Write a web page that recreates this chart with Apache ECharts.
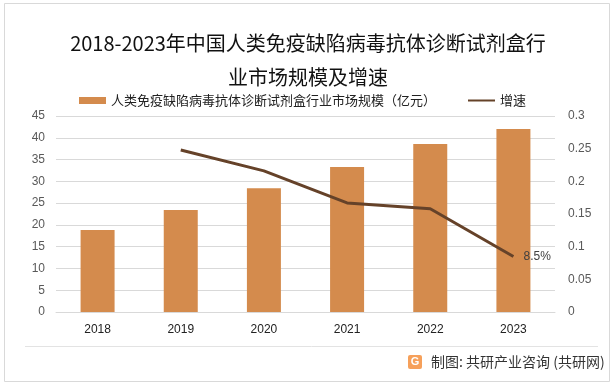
<!DOCTYPE html>
<html>
<head>
<meta charset="utf-8">
<script src="https://cdn.jsdelivr.net/npm/echarts@6/dist/echarts.min.js"></script>
<style>
html,body{margin:0;padding:0;background:#fff;}
#main{width:616px;height:387px;}
</style>
</head>
<body>
<div id="main"></div>
<script>
const years = ['2018', '2019', '2020', '2021', '2022', '2023'];
const marketSize = [18.8, 23.4, 28.4, 33.3, 38.6, 42.0];
const growth = [null, 0.248, 0.216, 0.167, 0.158, 0.085];
const leftTicks = { min: 0, max: 45, interval: 5 };
const rightTicks = { min: 0, max: 0.3, interval: 0.05 };
const barName = '人类免疫缺陷病毒抗体诊断试剂盒行业市场规模（亿元）';
const lineName = '增速';
const titleText = '2018-2023年中国人类免疫缺陷病毒抗体诊断试剂盒行\n业市场规模及增速';
const sourceText = '制图: 共研产业咨询 (共研网)';

const CJK = '"Noto Sans CJK SC", "Noto Sans", sans-serif';
const chart = echarts.init(document.getElementById('main'), null, { renderer: 'canvas' });

const growthData = growth.map((v, i) => {
  if (i === growth.length - 1) {
    return { value: v, label: { show: true, formatter: (Math.round(v * 1000) / 10) + '%' } };
  }
  return v;
});

chart.setOption({
  backgroundColor: '#ffffff',
  animation: false,
  title: {
    text: titleText,
    left: 'center',
    top: 21,
    textStyle: { fontFamily: CJK, fontSize: 20, fontWeight: 'normal', color: '#111', lineHeight: 34 }
  },
  legend: {
    left: 74,
    top: 89,
    itemWidth: 27,
    itemHeight: 7,
    itemGap: 31,
    textStyle: { fontFamily: CJK, fontSize: 13, color: '#222' },
    data: [
      { name: barName, icon: 'rect' },
      { name: lineName, itemStyle: { opacity: 0 } }
    ]
  },
  grid: { left: 56, right: 61, top: 116, bottom: 75, containLabel: false },
  xAxis: {
    type: 'category',
    data: years,
    axisLine: { show: true, lineStyle: { color: '#d9d9d9', width: 1 } },
    axisTick: { show: false },
    axisLabel: { color: '#222', fontSize: 12, margin: 12, fontFamily: 'Liberation Sans, sans-serif' }
  },
  yAxis: [
    {
      type: 'value',
      min: leftTicks.min, max: leftTicks.max, interval: leftTicks.interval,
      axisLine: { show: false },
      axisTick: { show: false },
      splitLine: { lineStyle: { color: '#d9d9d9', width: 1 } },
      axisLabel: { color: '#595959', fontSize: 12, margin: 11, fontFamily: 'Liberation Sans, sans-serif' }
    },
    {
      type: 'value',
      min: rightTicks.min, max: rightTicks.max, interval: rightTicks.interval,
      axisLine: { show: false },
      axisTick: { show: false },
      splitLine: { show: false },
      axisLabel: { color: '#595959', fontSize: 12, margin: 13, fontFamily: 'Liberation Sans, sans-serif' }
    }
  ],
  series: [
    {
      name: barName,
      type: 'bar',
      data: marketSize,
      barWidth: 34,
      itemStyle: { color: '#D48B4D' },
      yAxisIndex: 0
    },
    {
      name: lineName,
      type: 'line',
      yAxisIndex: 1,
      data: growthData,
      symbol: 'circle',
      symbolSize: 0.1,
      showSymbol: true,
      lineStyle: { color: '#654229', width: 3 },
      itemStyle: { color: '#654229' },
      label: { show: false, position: 'right', distance: 10, color: '#404040', fontSize: 12, fontFamily: 'Liberation Sans, sans-serif' }
    }
  ],
  graphic: [
    { type: 'rect', shape: { x: 4.5, y: 3.5, width: 605, height: 378 }, style: { fill: 'none', stroke: '#d9d9d9', lineWidth: 1 }, silent: true },
    { type: 'line', shape: { x1: 25, y1: 346.5, x2: 598, y2: 346.5 }, style: { stroke: '#e3e3e3', lineWidth: 1 }, silent: true },
    { type: 'rect', shape: { x: 408, y: 355, width: 14, height: 14, r: 2 }, style: { fill: '#F6A05A' }, silent: true },
    { type: 'text', style: { x: 415, y: 362, text: 'G', fill: '#fff', font: 'bold 11px sans-serif', align: 'center', verticalAlign: 'middle' }, silent: true },
    { type: 'text', style: { x: 431, y: 362, text: sourceText, fill: '#333', font: '14px "Noto Sans CJK SC", sans-serif', verticalAlign: 'middle' }, silent: true }
  ]
});
</script>
</body>
</html>
